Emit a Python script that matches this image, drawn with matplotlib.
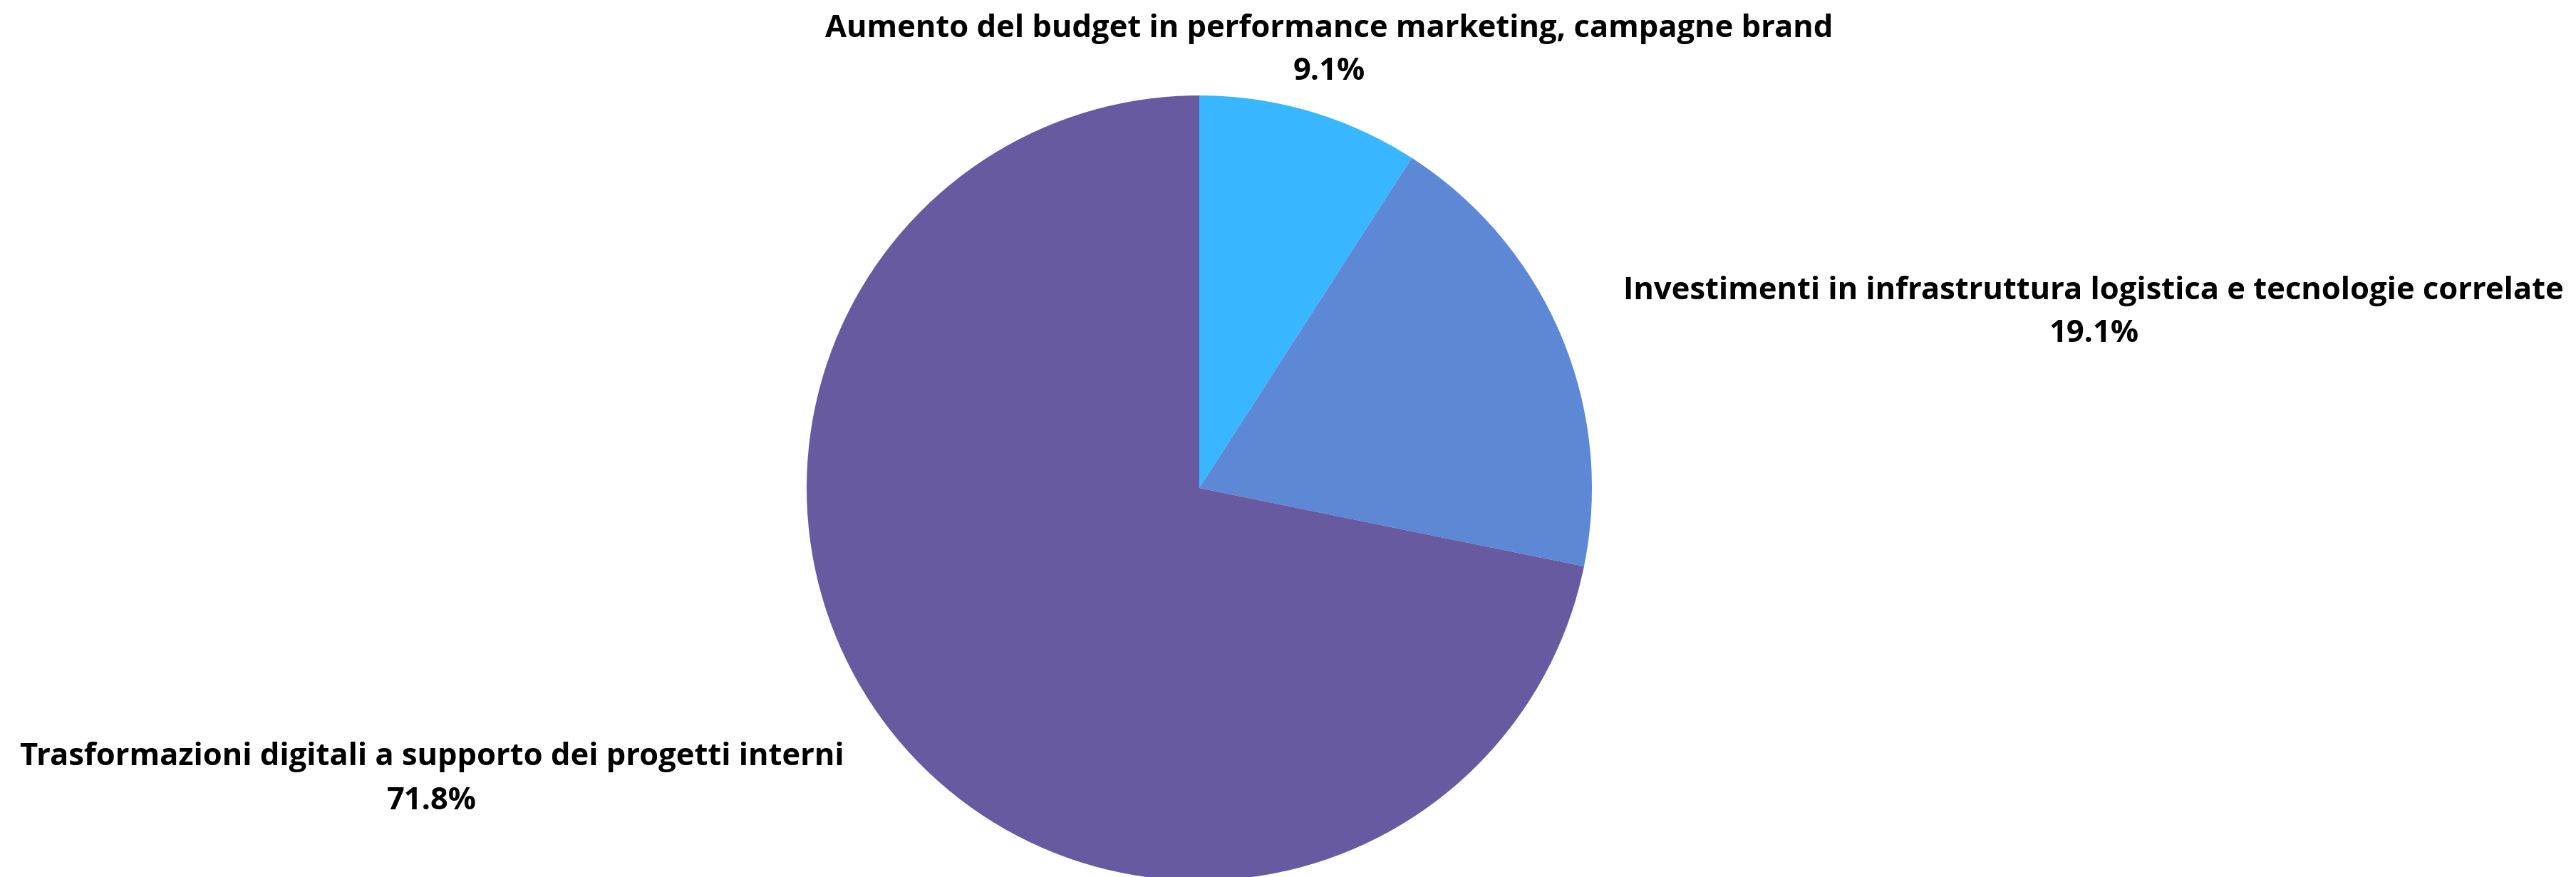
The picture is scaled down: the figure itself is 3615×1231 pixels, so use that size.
import matplotlib
matplotlib.use("Agg")
from matplotlib import pyplot as plt

labels = ['Aumento del budget in performance marketing, campagne brand',
          'Investimenti in infrastruttura logistica e tecnologie correlate',
          'Trasformazioni digitali a supporto dei progetti interni']
values = [9.1, 19.1, 71.8]
colors = ['#38b6ff', '#5c88d6', '#675aa1']

plt.rcParams['font.family'] = ['Open Sans', 'DejaVu Sans']

W, H = 3615, 1231
fig = plt.figure(figsize=(W / 100, H / 100), dpi=100)
ax = fig.add_axes([0, 0, 1, 1])

# pie in pixel coordinates (y up)
ax.pie(values, colors=colors, startangle=90, counterclock=False,
       center=(1683, H - 685), radius=551,
       wedgeprops=dict(linewidth=0))
ax.set_xlim(0, W)
ax.set_ylim(0, H)
ax.set_aspect('equal')
ax.axis('off')

# label positions (x centre, y of first line from top)
label_pos = [(1865, 40), (2938, 408), (606, 1063)]
for lab, val, (x, y) in zip(labels, values, label_pos):
    ax.text(x, H - y, lab, ha='center', va='center', fontsize=31.3,
            fontweight='bold', color='black')
    ax.text(x, H - y - 61, f'{val}%', ha='center', va='center', fontsize=31.3,
            fontweight='bold', color='black')

fig.savefig('out.png', dpi=100, facecolor='white')
